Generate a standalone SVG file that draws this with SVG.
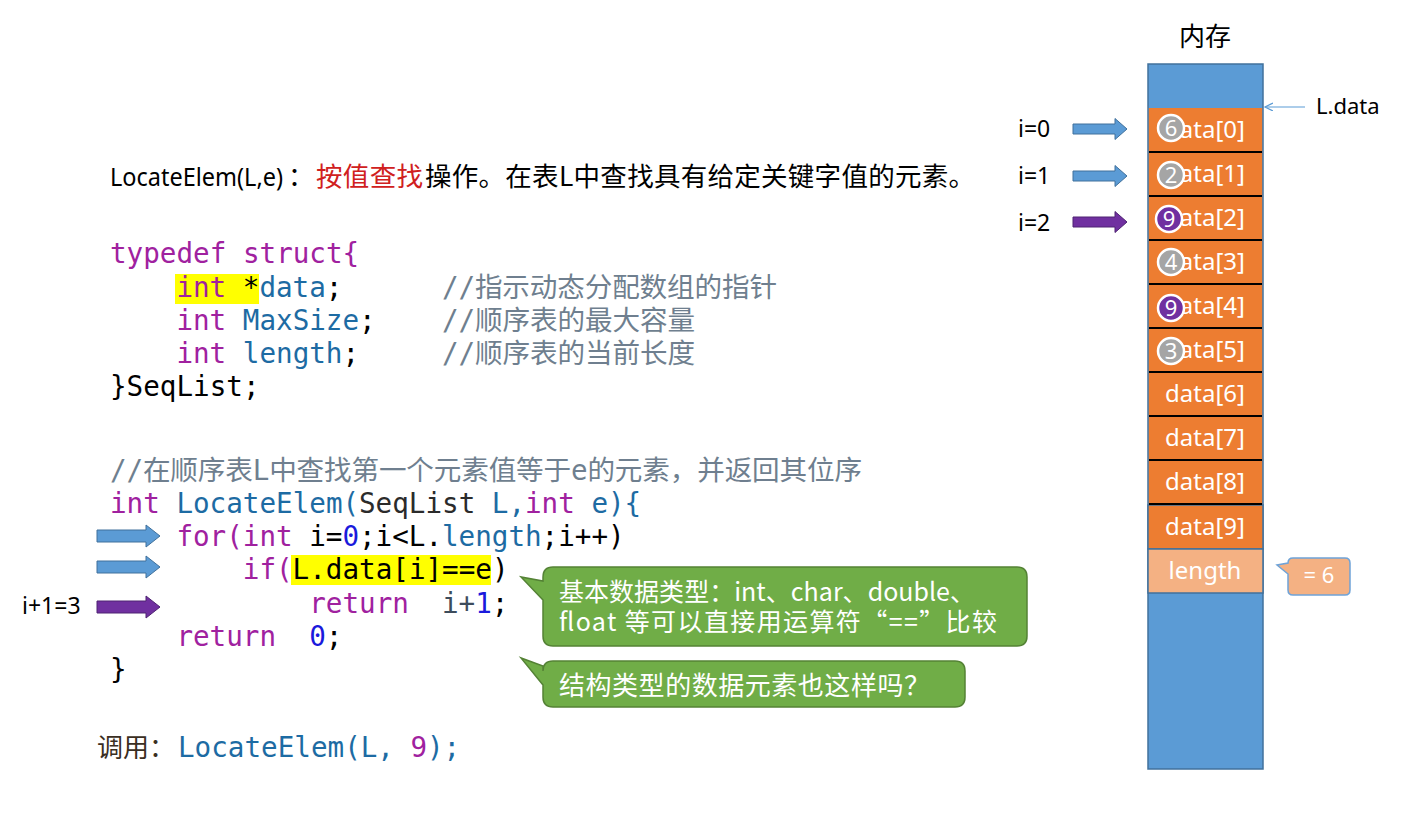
<svg xmlns="http://www.w3.org/2000/svg" width="1411" height="817" viewBox="0 0 1411 817">
<style>
.code{font-family:"DejaVu Sans Mono","Liberation Mono","Noto Sans CJK SC",monospace;font-size:27.6px;fill:#000}
.kw{fill:#A0219F}
.id{fill:#1D6BA3}
.num{fill:#1A1ADC}
.cm{fill:#6F7F8F}
.dk{fill:#2B2B2B}
.sans{font-family:"Noto Sans","Noto Sans CJK SC",sans-serif}
.cjk{font-family:"Noto Sans CJK SC","Noto Sans",sans-serif}
.wt{fill:#fff}
.cell{font-family:"Noto Sans",sans-serif;font-size:24px;fill:#fff;text-anchor:middle}
.circ{stroke:#fff;stroke-width:2.5}
.num2{font-family:"Noto Sans",sans-serif;font-size:22px;fill:#fff;text-anchor:middle}
.lbl{font-family:"Noto Sans",sans-serif;font-size:23px;fill:#000}
.barB{fill:#5B9BD5;stroke:#41719C;stroke-width:1}
.barP{fill:#7030A0;stroke:#4E2372;stroke-width:1}
.sep{stroke:#000;stroke-width:2}
.green{fill:#70AD47;stroke:#548235;stroke-width:1.5}
</style>
<defs>
<path id="arrL" d="M0,-6 H49 V-11 L63,0 L49,11 V6 H0 Z"/>
<path id="arrR" d="M0,-5 H42 V-10.5 L54,0 L42,10.5 V5 H0 Z"/>
<marker id="thin" markerWidth="10" markerHeight="10" refX="8" refY="4" orient="auto" markerUnits="userSpaceOnUse">
<path d="M0,0 L8,4 L0,8" fill="none" stroke="#5B9BD5" stroke-width="1.2"/>
</marker>
</defs>

<g id="header">
<text class="sans" x="110" y="186" font-size="25" textLength="173" lengthAdjust="spacingAndGlyphs">LocateElem(L,e)</text>
<text class="cjk" x="288" y="186" font-size="26">：</text>
<text class="cjk" x="316" y="186" font-size="26.5" fill="#D02020" textLength="107">按值查找</text>
<text class="cjk" x="425" y="186" font-size="26.5" textLength="550">操作。在表L中查找具有给定关键字值的元素。</text>
</g>

<g id="struct-code">
<rect x="175" y="274" width="84" height="30" fill="#FFFF00"/>
<text class="code" y="263"><tspan x="110" class="kw">typedef struct{</tspan></text>
<text class="code" y="297"><tspan x="176.4" class="kw">int</tspan><tspan x="242.8">*</tspan><tspan x="259.4" class="id">data</tspan><tspan x="325.8">;</tspan></text>
<text class="code cm" x="442" y="297" textLength="335">//指示动态分配数组的指针</text>
<text class="code" y="330"><tspan x="176.4" class="kw">int</tspan><tspan x="242.8" class="id">MaxSize</tspan><tspan x="359">;</tspan></text>
<text class="code cm" x="442" y="330" textLength="253">//顺序表的最大容量</text>
<text class="code" y="363"><tspan x="176.4" class="kw">int</tspan><tspan x="242.8" class="id">length</tspan><tspan x="342.4">;</tspan></text>
<text class="code cm" x="442" y="363" textLength="253">//顺序表的当前长度</text>
<text class="code" x="110" y="396">}SeqList;</text>
</g>

<g id="func-code">
<text class="code cm" x="110" y="480" textLength="752">//在顺序表L中查找第一个元素值等于e的元素，并返回其位序</text>
<text class="code" y="513"><tspan x="110" class="kw">int</tspan><tspan x="176.4" class="id">LocateElem(</tspan><tspan x="359" class="dk">SeqList</tspan><tspan x="491.8" class="id">L,</tspan><tspan x="525" class="kw">int</tspan><tspan x="591.4" class="id">e){</tspan></text>
<text class="code" y="546"><tspan x="176.4" class="kw">for(int</tspan><tspan x="309.2">i=</tspan><tspan x="342.4" class="num">0</tspan><tspan x="359">;i&lt;L.</tspan><tspan x="442" class="id">length</tspan><tspan x="541.6">;i++)</tspan></text>
<rect x="291" y="555" width="200" height="30" fill="#FFFF00"/>
<text class="code" y="579"><tspan x="242.8" class="kw">if(</tspan><tspan x="292.6">L.data[i]==e)</tspan></text>
<text class="code" y="613"><tspan x="309.2" class="kw">return</tspan><tspan x="442" fill="#3D4C5C">i+</tspan><tspan x="475.2" class="num">1</tspan><tspan x="491.8">;</tspan></text>
<text class="code" y="646"><tspan x="176.4" class="kw">return</tspan><tspan x="309.2" class="num">0</tspan><tspan x="325.8">;</tspan></text>
<text class="code" x="110" y="679">}</text>
</g>

<g id="call">
<text class="cjk" x="97" y="757" font-size="26" fill="#3A2E22">调用：</text>
<text class="code" y="757"><tspan x="178" class="id">LocateElem(L,</tspan><tspan x="410.4" class="kw">9</tspan><tspan x="427" class="id">);</tspan></text>
</g>

<g id="memory">
<text class="cjk" x="1205" y="46" font-size="26" text-anchor="middle">内存</text>
<rect x="1148" y="64" width="115" height="705" fill="#5B9BD5" stroke="#41719C" stroke-width="1.5"/>
<rect x="1148.8" y="108" width="113.4" height="397" fill="#ED7D31"/>
<rect x="1148" y="505" width="115" height="44" fill="#ED7D31" stroke="#41719C" stroke-width="1.5"/>
<rect x="1148" y="549" width="115" height="44" fill="#F4B183" stroke="#41719C" stroke-width="1.5"/>
<g class="sep">
<line x1="1149" y1="152" x2="1262" y2="152"/>
<line x1="1149" y1="196" x2="1262" y2="196"/>
<line x1="1149" y1="240" x2="1262" y2="240"/>
<line x1="1149" y1="284" x2="1262" y2="284"/>
<line x1="1149" y1="328" x2="1262" y2="328"/>
<line x1="1149" y1="372" x2="1262" y2="372"/>
<line x1="1149" y1="416" x2="1262" y2="416"/>
<line x1="1149" y1="460" x2="1262" y2="460"/>
<line x1="1149" y1="504" x2="1262" y2="504"/>
</g>
<text class="cell" x="1205" y="138">data[0]</text>
<text class="cell" x="1205" y="182">data[1]</text>
<text class="cell" x="1205" y="226">data[2]</text>
<text class="cell" x="1205" y="270">data[3]</text>
<text class="cell" x="1205" y="314">data[4]</text>
<text class="cell" x="1205" y="358">data[5]</text>
<text class="cell" x="1205" y="402">data[6]</text>
<text class="cell" x="1205" y="446">data[7]</text>
<text class="cell" x="1205" y="490">data[8]</text>
<text class="cell" x="1205" y="535">data[9]</text>
<text class="cell" x="1205" y="579">length</text>
</g>

<g id="values">
<circle class="circ" cx="1171" cy="128" r="13" fill="#A5A5A5"/><text class="num2" x="1171" y="136">6</text>
<circle class="circ" cx="1171" cy="175" r="13" fill="#A5A5A5"/><text class="num2" x="1171" y="183">2</text>
<circle class="circ" cx="1169" cy="219" r="13" fill="#7030A0"/><text class="num2" x="1169" y="227">9</text>
<circle class="circ" cx="1171" cy="262" r="13" fill="#A5A5A5"/><text class="num2" x="1171" y="270">4</text>
<circle class="circ" cx="1171" cy="308" r="13" fill="#7030A0"/><text class="num2" x="1171" y="316">9</text>
<circle class="circ" cx="1171" cy="351" r="13" fill="#A5A5A5"/><text class="num2" x="1171" y="359">3</text>
</g>

<g id="ldata">
<text class="sans" x="1316" y="114" font-size="22">L.data</text>
</g>

<g id="eq6">
<path d="M1293,558 H1345 Q1350,558 1350,563 V590 Q1350,595 1345,595 H1293 Q1288,595 1288,590 V574 L1277,565 L1288,563 Q1288,558 1293,558 Z" fill="#F4B183" stroke="#6FA3D8" stroke-width="1.5"/>
<text class="sans wt" x="1319" y="583" font-size="22" text-anchor="middle">= 6</text>
</g>

<g id="callout1">
<path class="green" d="M553,567 H1017 Q1027,567 1027,577 V636 Q1027,646 1017,646 H553 Q543,646 543,636 V600 L521,577 L543,581 V577 Q543,567 553,567 Z"/>
<text class="cjk wt" x="559" y="601" font-size="25" textLength="416">基本数据类型：int、char、double、</text>
<text class="cjk wt" x="559" y="631" font-size="25" textLength="438">float 等可以直接用运算符“==”比较</text>
</g>

<g id="callout2">
<path class="green" d="M553,661 H955 Q965,661 965,671 V697 Q965,707 955,707 H553 Q543,707 543,697 V685 L521,658 L543,666 V671 Q543,661 553,661 Z"/>
<text class="cjk wt" x="559" y="695" font-size="26" textLength="371">结构类型的数据元素也这样吗？</text>
</g>

<g id="labels">
<text class="lbl" x="1018" y="137">i=0</text>
<text class="lbl" x="1018" y="184">i=1</text>
<text class="lbl" x="1018" y="231">i=2</text>
<text class="lbl" x="22" y="614">i+1=3</text>
</g>

<g id="connectors">
<use href="#arrR" class="barB" transform="translate(1073,129)"/>
<use href="#arrR" class="barB" transform="translate(1073,176)"/>
<use href="#arrR" class="barP" transform="translate(1073,222)"/>
<use href="#arrL" class="barB" transform="translate(97,536)"/>
<use href="#arrL" class="barB" transform="translate(97,567)"/>
<use href="#arrL" class="barP" transform="translate(97,607)"/>
<line x1="1305" y1="107" x2="1265" y2="107" stroke="#5B9BD5" stroke-width="1.2" marker-end="url(#thin)"/>
</g>
</svg>
